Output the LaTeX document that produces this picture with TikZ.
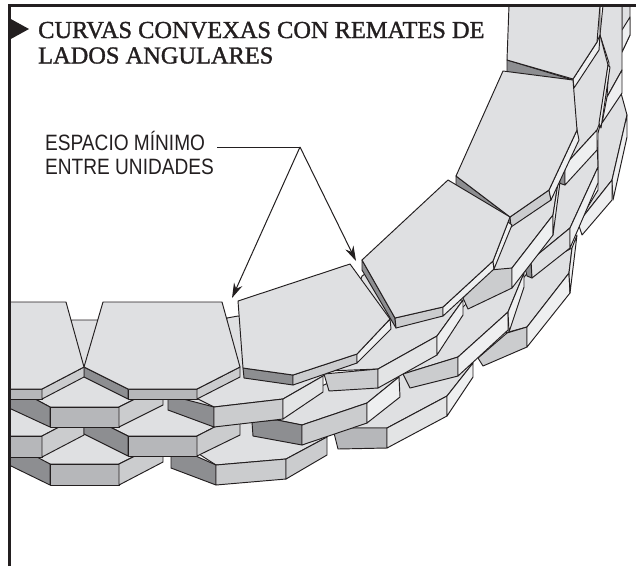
\documentclass[tikz,border=0pt]{standalone}
\usepackage{fontspec}
\setmainfont{Liberation Serif}
\newfontfamily\titlefont[FakeBold=1.3]{Liberation Serif}
\newfontfamily\labelfont[FakeStretch=0.86]{Liberation Sans}
\usetikzlibrary{arrows.meta}
\definecolor{ink}{HTML}{231F20}
\definecolor{cface}{HTML}{DFE0E2}
\definecolor{cdark}{HTML}{8D8E91}
\definecolor{cmid}{HTML}{B6B7BA}
\definecolor{clight}{HTML}{CBCCCE}
\definecolor{cpale}{HTML}{EEEFF0}
\definecolor{cside}{HTML}{E3E4E5}
\tikzset{
  x=1pt,y=-1pt,
  plate/.style={draw=ink,line width=0.95pt,line join=round},
  tface/.style={plate,fill=cface},
  tdark/.style={plate,fill=cdark},
  tmid/.style={plate,fill=cmid},
  tlight/.style={plate,fill=clight},
  tpale/.style={plate,fill=cpale},
  tside/.style={plate,fill=cside},
  leader/.style={draw=ink,line width=1pt},
  pointer/.style={leader,-{Stealth[length=15pt,width=9pt]}},
  frameline/.style={draw=ink,line width=3pt},
  titletext/.style={anchor=base west,inner sep=0pt,font=\titlefont\fontsize{24.4}{28}\selectfont,text=ink},
  labeltext/.style={anchor=base west,inner sep=0pt,font=\labelfont\fontsize{22.2}{25}\selectfont,text=ink}
}
\begin{document}
\begin{tikzpicture}
\useasboundingbox (0,0) rectangle (636,566);
\fill[white] (0,0) rectangle (636,566);
% --- lowest layer, left
\draw[tface] (33,457)--(84,430)--(135,445)--(163,442)--(119,464)--(50,464)--cycle;
\draw[tdark] (9,442)--(50,464)--(50,485)--(9,465)--cycle;
\draw[tmid] (50,464)--(119,464)--(119,485)--(50,485)--cycle;
\draw[tlight] (119,464)--(163,442)--(163,462)--(119,485)--cycle;
\draw[tface] (185,445)--(216,465)--(286,459)--(327,437)--(327,400)--(220,400)--cycle;
\draw[tdark] (171,445)--(216,465)--(216,485)--(171,468)--cycle;
\draw[tlight] (216,465)--(286,459)--(286,479)--(216,485)--cycle;
\draw[tlight] (286,459)--(327,437)--(327,455)--(286,479)--cycle;
% --- third layer, left
\draw[tface] (9,395)--(84,395)--(84,414)--(42,436)--(9,436)--cycle;
\draw[tmid] (9,436)--(42,436)--(42,457)--(9,457)--cycle;
\draw[tlight] (42,436)--(84,414)--(84,435)--(42,457)--cycle;
\draw[tface] (84,414)--(128,436)--(197,436)--(240,414)--(240,380)--(84,380)--cycle;
\draw[tdark] (84,414)--(128,436)--(128,456)--(84,434)--cycle;
\draw[tmid] (128,436)--(197,436)--(197,456)--(128,456)--cycle;
\draw[tlight] (197,436)--(240,414)--(240,435)--(197,456)--cycle;
% --- outer ring, lower right
\draw[tface] (337,428)--(387,428)--(447,396)--(473,363)--(473,340)--(400,360)--cycle;
\draw[tmid] (334,433)--(337,428)--(387,428)--(387,448)--(338,449)--cycle;
\draw[tside] (387,428)--(447,396)--(447,416)--(387,448)--cycle;
\draw[tpale] (447,396)--(473,363)--(473,377)--(447,416)--cycle;
\draw[tface] (277,420)--(302,425)--(367,403)--(399,377)--(380,360)--(290,400)--cycle;
\draw[tdark] (252,422)--(277,420)--(302,425)--(302,445)--(253,436)--cycle;
\draw[tlight] (302,425)--(367,403)--(367,423)--(302,445)--cycle;
\draw[tpale] (367,403)--(399,377)--(400,397)--(367,423)--cycle;
% --- far right blocks
\draw[tface] (600,125)--(621,93)--(627,115)--(612,180)--(578,223)--(598,190)--(598,133)--cycle;
\draw[tpale] (627,115)--(627,137)--(613,200)--(612,180)--cycle;
\draw[tpale] (578,223)--(612,180)--(612,200)--(582,235)--cycle;
\draw[tface] (505,333)--(527,327)--(569,273)--(572,248)--(530,270)--(505,300)--cycle;
\draw[tlight] (478,358)--(507,333)--(527,327)--(527,347)--(483,366)--cycle;
\draw[tpale] (527,327)--(569,273)--(570,293)--(527,347)--cycle;
\draw[tpale] (572,248)--(569,273)--(570,293)--(577,235)--cycle;
\draw[tface] (531,260)--(570,228)--(598,167)--(597,140)--(560,170)--(530,240)--cycle;
\draw[tdark] (525,268)--(531,262)--(532,278)--(527,276)--cycle;
\draw[tface] (531,260)--(570,228)--(570,248)--(532,278)--cycle;
\draw[tpale] (598,167)--(570,228)--(570,248)--(598,183)--cycle;
% --- mid ring
\draw[tface] (403,374)--(458,357)--(508,312)--(524,273)--(490,280)--(440,330)--cycle;
\draw[tlight] (403,374)--(458,357)--(458,376)--(410,388)--cycle;
\draw[tpale] (458,357)--(508,312)--(508,330)--(458,376)--cycle;
\draw[tpale] (508,312)--(524,273)--(524,287)--(509,332)--cycle;
% --- second layer
\draw[tface] (9,385)--(50,407)--(119,407)--(163,385)--(163,340)--(98,320)--(72,320)--(9,340)--cycle;
\draw[tdark] (9,385)--(50,407)--(50,427)--(9,408)--cycle;
\draw[tmid] (50,407)--(119,407)--(119,427)--(50,427)--cycle;
\draw[tlight] (119,407)--(163,385)--(163,405)--(119,427)--cycle;
\draw[tface] (190,395)--(214,407)--(283,399)--(323,376)--(350,330)--(238,316)--(227,318)--(210,380)--cycle;
\draw[tdark] (168,395)--(214,407)--(214,427)--(168,410)--cycle;
\draw[tlight] (214,407)--(283,399)--(283,419)--(214,427)--cycle;
\draw[tside] (283,399)--(323,376)--(323,392)--(283,419)--cycle;
\draw[tface] (328,371)--(378,369)--(437,336)--(463,300)--(400,300)--(368,272)--(362,276)--(340,340)--cycle;
\draw[tlight] (324,374)--(378,369)--(378,388)--(329,391)--cycle;
\draw[tside] (378,369)--(437,336)--(437,355)--(378,388)--cycle;
\draw[tpale] (437,336)--(463,300)--(463,315)--(437,355)--cycle;
% --- top right strips
\draw[tface] (622,5)--(630,5)--(630,35)--(622,52)--cycle;
\draw[tpale] (622,30)--(630,17)--(630,35)--(622,52)--cycle;
\draw[tface] (603,5)--(622,5)--(622,70)--(607,97)--(609,63)--(600,35)--cycle;
\draw[tpale] (622,70)--(622,93)--(602,123)--(607,97)--cycle;
\draw[tface] (570,80)--(577,130)--(560,170)--(565,165)--(597,130)--(600,122)--(608,65)--(600,35)--(600,5)--(570,5)--cycle;
\draw[tpale] (608,65)--(599,123)--(601,128)--(610,67)--cycle;
\draw[tdark] (559,170)--(565,165)--(565,185)--(559,183)--cycle;
\draw[tpale] (597,130)--(597,150)--(565,185)--(565,165)--cycle;
% --- ring under blocks 4 and 5
\draw[tface] (512,268)--(553,215)--(558,183)--(550,170)--(505,220)--(470,295)--cycle;
\draw[tlight] (463,298)--(468,309)--(512,288)--(512,268)--(490,270)--cycle;
\draw[tpale] (512,268)--(553,215)--(553,235)--(512,288)--cycle;
\draw[tpale] (553,215)--(558,183)--(560,182)--(553,235)--cycle;
% --- top layer, from the far end back to the near end
\draw[tdark] (507,60)--(573,80)--(507,75)--cycle;
\draw[tpale] (597,42)--(573,79)--(574,88)--(599,50)--(600,35)--cycle;
\draw[tface] (509,5)--(600,5)--(597,42)--(573,79)--(507,60)--cycle;
\draw[tdark] (456,176)--(510,217)--(511,227)--(456,186)--cycle;
\draw[tlight] (510,217)--(549,190)--(551,200)--(511,227)--cycle;
\draw[tpale] (549,190)--(577,130)--(579,140)--(551,200)--cycle;
\draw[tface] (456,176)--(503,71)--(573,80)--(577,130)--(549,190)--(510,217)--cycle;
\draw[tdark] (362,260)--(395,318)--(396,328)--(362,270)--cycle;
\draw[tlight] (395,318)--(443,307)--(443,316)--(396,328)--cycle;
\draw[tpale] (443,307)--(493,261)--(494,269)--(443,316)--cycle;
\draw[tpale] (508,222)--(493,261)--(494,269)--(512,225)--cycle;
\draw[tface] (362,260)--(448,180)--(510,217)--(493,261)--(443,307)--(395,318)--cycle;
\draw[tdark] (243,368)--(293,375)--(293,385)--(244,378)--cycle;
\draw[tlight] (293,375)--(357,354)--(357,363)--(293,385)--cycle;
\draw[tpale] (357,354)--(390,319)--(391,329)--(357,363)--cycle;
\draw[tface] (238,301)--(350,264)--(390,319)--(357,354)--(293,375)--(243,368)--cycle;
\draw[tdark] (84,367)--(128,389)--(128,399)--(84,377)--cycle;
\draw[tmid] (128,389)--(197,389)--(197,399)--(128,399)--cycle;
\draw[tlight] (197,389)--(240,367)--(240,377)--(197,399)--cycle;
\draw[tface] (103,302)--(222,302)--(240,367)--(197,389)--(128,389)--(84,367)--cycle;
\draw[tmid] (9,389)--(42,389)--(42,399)--(9,399)--cycle;
\draw[tlight] (42,389)--(84,367)--(84,377)--(42,399)--cycle;
\draw[tface] (9,302)--(66,302)--(84,367)--(42,389)--(9,389)--cycle;
% --- frame and bullet
\coordinate (frameBL) at (9,566);
\coordinate (frameTL) at (9,5);
\coordinate (frameTR) at (636,5);
\draw[frameline] (frameBL)--(frameTL)--(frameTR);
\fill[ink] (9,18)--(29,29)--(9,40)--cycle;
% --- texts
\node[titletext] (title1) at (38,38) {CURVAS CONVEXAS CON REMATES DE};
\node[titletext] (title2) at (38,63.5) {LADOS ANGULARES};
\node[labeltext] (lab1) at (45,150) {ESPACIO MÍNIMO};
\node[labeltext] (lab2) at (45,174) {ENTRE UNIDADES};
% --- leader
\coordinate (elbow) at (300,147);
\coordinate (gapA) at (232,298);
\coordinate (gapB) at (356,261);
\coordinate (leadstart) at (217,147);
\draw[leader] (leadstart) -- (elbow);
\draw[pointer] (elbow)--(gapA);
\draw[pointer] (elbow)--(gapB);
\end{tikzpicture}
\end{document}
